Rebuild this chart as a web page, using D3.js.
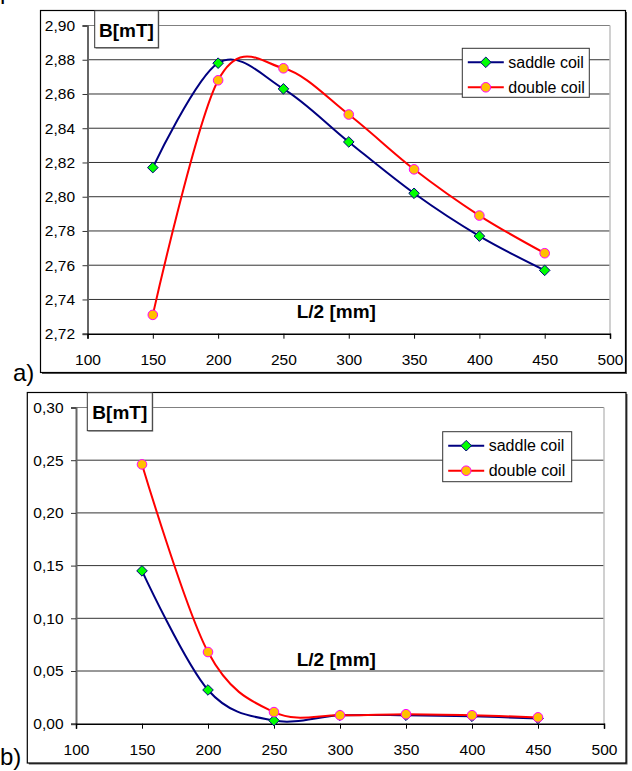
<!DOCTYPE html>
<html>
<head>
<meta charset="utf-8">
<script src="https://cdn.jsdelivr.net/npm/d3@7"></script>
<style>
  html, body { margin: 0; padding: 0; background: #fff; }
  svg { display: block; }
  text { font-family: "Liberation Sans", Arial, sans-serif; fill: #000; }
</style>
</head>
<body>
<svg id="chart" width="632" height="771"></svg>
<script>
// ---- data ----
const lengths = [150, 200, 250, 300, 350, 400, 450];          // L/2 [mm]
const seriesNames = ["saddle coil", "double coil"];
// chart a) B[mT]
const saddleA = [2.817, 2.878, 2.863, 2.832, 2.802, 2.777, 2.757];
const doubleA = [2.731, 2.868, 2.875, 2.848, 2.816, 2.789, 2.767];
// chart b) B[mT]
const saddleB = [0.145, 0.032, 0.003, 0.008, 0.008, 0.007, 0.005];
const doubleB = [0.246, 0.068, 0.011, 0.008, 0.009, 0.008, 0.006];
// ticks
const xTicks = [100, 150, 200, 250, 300, 350, 400, 450, 500];
const yTicksA = [2.72, 2.74, 2.76, 2.78, 2.80, 2.82, 2.84, 2.86, 2.88, 2.90];
const yTicksB = [0.00, 0.05, 0.10, 0.15, 0.20, 0.25, 0.30];
const yLabel = "B[mT]";
const xLabel = "L/2 [mm]";
const panelLabels = ["a)", "b)"];

const svg = d3.select("#chart");
const fmt = d3.format(".2f");
const comma = v => fmt(v).replace(".", ",");

function drawChart(cfg) {
  const g = svg.append("g");
  // outer frame with shadow
  const o = cfg.outer;
  g.append("rect").attr("x", o.x + 1.5).attr("y", o.y + 1.5).attr("width", o.w).attr("height", o.h)
    .attr("fill", "#555");
  g.append("rect").attr("x", o.x).attr("y", o.y).attr("width", o.w).attr("height", o.h)
    .attr("fill", "#fff").attr("stroke", "#000").attr("stroke-width", 1.2);

  const p = cfg.plot;
  const x = d3.scaleLinear().domain([100, 500]).range([p.left, p.right]);
  const y = d3.scaleLinear().domain(cfg.yDomain).range([p.bottom, p.top]);

  // gridlines
  g.append("g").selectAll("line").data(cfg.yTicks.slice(1)).join("line")
    .attr("x1", p.left).attr("x2", p.right)
    .attr("y1", d => y(d)).attr("y2", d => y(d))
    .attr("stroke", (d, i, a) => i === a.length - 1 ? "#808080" : "#333")
    .attr("stroke-width", 1);
  // right plot border
  g.append("line").attr("x1", p.right).attr("x2", p.right).attr("y1", p.top).attr("y2", p.bottom)
    .attr("stroke", "#c0c0c0").attr("stroke-width", 1.5);

  // axes
  const yAxis = d3.axisLeft(y).tickValues(cfg.yTicks).tickSize(5).tickPadding(7.5).tickFormat(comma);
  const ya = g.append("g").attr("transform", `translate(${p.left},0)`).call(yAxis);
  ya.select(".domain").attr("stroke", "#666").attr("stroke-width", 2);
  ya.selectAll(".tick line").attr("stroke", "#333");
  ya.selectAll("text").attr("font-size", 15.5).attr("font-family", "Liberation Sans, Arial, sans-serif").attr("fill", "#000");

  const xAxis = d3.axisBottom(x).tickValues(xTicks).tickSize(5).tickPadding(15).tickFormat(d3.format("d"));
  const xa = g.append("g").attr("transform", `translate(0,${p.bottom})`).call(xAxis);
  xa.select(".domain").attr("stroke", "#000").attr("stroke-width", 1.5);
  xa.selectAll(".tick line").attr("stroke", "#000");
  xa.selectAll("text").attr("font-size", 15.5).attr("font-family", "Liberation Sans, Arial, sans-serif").attr("fill", "#000");

  // series
  const line = d3.line().x((d, i) => x(lengths[i])).y(d => y(d)).curve(d3.curveCatmullRom.alpha(0));
  const diamond = r => `M0,${-r}L${r},0L0,${r}L${-r},0Z`;

  const series = [
    { vals: cfg.saddle, color: "#000080", type: "diamond" },
    { vals: cfg.double, color: "#ff0000", type: "circle" }
  ];
  series.forEach(s => {
    g.append("path").attr("d", line(s.vals)).attr("fill", "none")
      .attr("stroke", s.color).attr("stroke-width", 2);
    const m = g.append("g").selectAll("g").data(s.vals).join("g")
      .attr("transform", (d, i) => `translate(${x(lengths[i])},${y(d)})`);
    if (s.type === "diamond") {
      m.append("path").attr("d", diamond(5.3)).attr("fill", "#00ff00").attr("stroke", "#000080").attr("stroke-width", 1);
    } else {
      m.append("circle").attr("r", 4.8).attr("fill", "#ffc000").attr("stroke", "#ff00ff").attr("stroke-width", 1);
    }
  });

  // y label box
  const b = cfg.yBox;
  g.append("rect").attr("x", b.x + 1).attr("y", b.y + 1).attr("width", b.w).attr("height", b.h).attr("fill", "#999");
  g.append("rect").attr("x", b.x).attr("y", b.y).attr("width", b.w).attr("height", b.h)
    .attr("fill", "#fff").attr("stroke", "#333").attr("stroke-width", 1);
  g.append("text").attr("x", b.x + b.w / 2).attr("y", b.y + 26.5).attr("text-anchor", "middle")
    .attr("font-size", 19).attr("font-weight", "bold").text(yLabel);

  // x label
  g.append("text").attr("x", cfg.xLab.x).attr("y", cfg.xLab.y)
    .attr("font-size", 19).attr("font-weight", "bold").text(xLabel);

  // legend
  const L = cfg.legend;
  g.append("rect").attr("x", L.x).attr("y", L.y).attr("width", L.w).attr("height", L.h)
    .attr("fill", "#fff").attr("stroke", "#333").attr("stroke-width", 1);
  series.forEach((s, i) => {
    const cy = L.y + 14 + i * 25;
    const lx1 = L.x + 5.5, lx2 = L.x + 41.5, mx = L.x + 23.5;
    g.append("line").attr("x1", lx1).attr("x2", lx2).attr("y1", cy).attr("y2", cy)
      .attr("stroke", s.color).attr("stroke-width", 2);
    if (s.type === "diamond") {
      g.append("path").attr("transform", `translate(${mx},${cy})`).attr("d", diamond(5.3))
        .attr("fill", "#00ff00").attr("stroke", "#000080").attr("stroke-width", 1);
    } else {
      g.append("circle").attr("cx", mx).attr("cy", cy).attr("r", 4.8)
        .attr("fill", "#ffc000").attr("stroke", "#ff00ff").attr("stroke-width", 1);
    }
    g.append("text").attr("x", L.x + 46).attr("y", cy + 5.7).attr("font-size", 16).text(seriesNames[i]);
  });

  // panel label
  g.append("text").attr("x", cfg.panel.x).attr("y", cfg.panel.y)
    .attr("font-family", "Liberation Serif, Times New Roman, serif").attr("font-size", 24)
    .text(cfg.panel.text);
}

// cropped glyph at top-left
svg.append("text").attr("x", 0).attr("y", -1)
  .attr("font-family", "Liberation Serif, Times New Roman, serif").attr("font-size", 24).text("p");

drawChart({
  outer: { x: 40.5, y: 10.5, w: 585, h: 362 },
  plot: { left: 87.5, right: 610, top: 25.5, bottom: 333.7 },
  yDomain: [2.72, 2.90], yTicks: yTicksA,
  saddle: saddleA, double: doubleA,
  yBox: { x: 94.7, y: 10.7, w: 63.6, h: 37 },
  xLab: { x: 296.7, y: 318.3 },
  legend: { x: 462.3, y: 48.3, w: 127, h: 49 },
  panel: { x: 13, y: 380.5, text: panelLabels[0] }
});

drawChart({
  outer: { x: 27.3, y: 392.5, w: 598.7, h: 370.5 },
  plot: { left: 76, right: 604, top: 407.5, bottom: 723.7 },
  yDomain: [0, 0.30], yTicks: yTicksB,
  saddle: saddleB, double: doubleB,
  yBox: { x: 87.3, y: 392.7, w: 65, h: 38 },
  xLab: { x: 296.7, y: 665.7 },
  legend: { x: 442.7, y: 431.7, w: 129, h: 50 },
  panel: { x: 0, y: 765, text: panelLabels[1] }
});
</script>
</body>
</html>
